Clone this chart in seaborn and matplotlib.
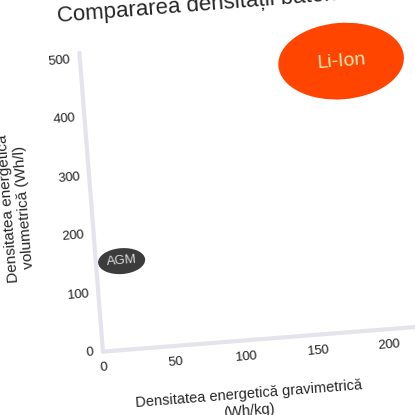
import matplotlib
matplotlib.use("Agg")
import matplotlib.pyplot as plt
import seaborn as sns
from matplotlib.patches import Ellipse
from matplotlib.transforms import Affine2D
from mpl_toolkits.axisartist import floating_axes
from mpl_toolkits.axisartist.grid_finder import FixedLocator

# battery data
batteries = ["AGM", "Li-Ion"]
grav = [18, 182]          # Wh/kg
vol = [151, 461]          # Wh/l
grav_span = [33, 88]
vol_span = [44, 130]
fill_colors = ["#3c3c3c", "#ff4500"]
text_colors = ["#d8d8d8", "#fde7b5"]
text_sizes = [9.5, 14]

x_ticks = [0, 50, 100, 150, 200]
y_ticks = [0, 100, 200, 300, 400, 500]

sns.set_style("white")
plt.rcParams["font.family"] = ["Liberation Sans", "DejaVu Sans"]

fig = plt.figure(figsize=(4.15, 4.15), dpi=100)

# the chart in the picture is tilted a little
tilt = 4.5
tr = Affine2D().scale(1.46, 0.6).rotate_deg(tilt)
grid_helper = floating_axes.GridHelperCurveLinear(
    tr, extremes=(0, 220, 0, 510),
    grid_locator1=FixedLocator(x_ticks),
    grid_locator2=FixedLocator(y_ticks))

ax = floating_axes.FloatingAxes(fig, [0.183, 0.145, 0.829, 0.795], grid_helper=grid_helper)
fig.add_axes(ax)
ax.set_aspect("equal")
ax.patch.set_visible(False)
aux = ax.get_aux_axes(tr)

for side in ["top", "right"]:
    ax.axis[side].set_visible(False)
for side in ["left", "bottom"]:
    a = ax.axis[side]
    a.line.set_color("#e4e4ec")
    a.line.set_linewidth(3)
    a.major_ticks.set_ticksize(0)
    a.major_ticklabels.set_fontsize(9.5)
    a.major_ticklabels.set_color("#222222")
ax.axis["left"].major_ticklabels.set_pad(6)
ax.axis["bottom"].major_ticklabels.set_pad(6)
ax.axis["left"].label.set_text("Densitatea energetică\nvolumetrică (Wh/l)")
ax.axis["left"].label.set_fontsize(11)
ax.axis["left"].label.set_pad(20)

for i, name in enumerate(batteries):
    e = Ellipse((grav[i], vol[i]), grav_span[i], vol_span[i],
                facecolor=fill_colors[i], edgecolor="none", clip_on=False)
    aux.add_patch(e)
    aux.text(grav[i], vol[i], name, ha="center", va="center",
             fontsize=text_sizes[i], color=text_colors[i],
             rotation=tilt, clip_on=False)

fig.text(0.14, 0.947, "Compararea densității bateriilor", fontsize=16,
         rotation=tilt, rotation_mode="anchor", ha="left", va="baseline")
fig.text(0.6, 0.03, "Densitatea energetică gravimetrică\n(Wh/kg)", fontsize=10.5,
         rotation=tilt, rotation_mode="anchor", ha="center", va="center",
         multialignment="center")

fig.savefig("out.png", dpi=100)
